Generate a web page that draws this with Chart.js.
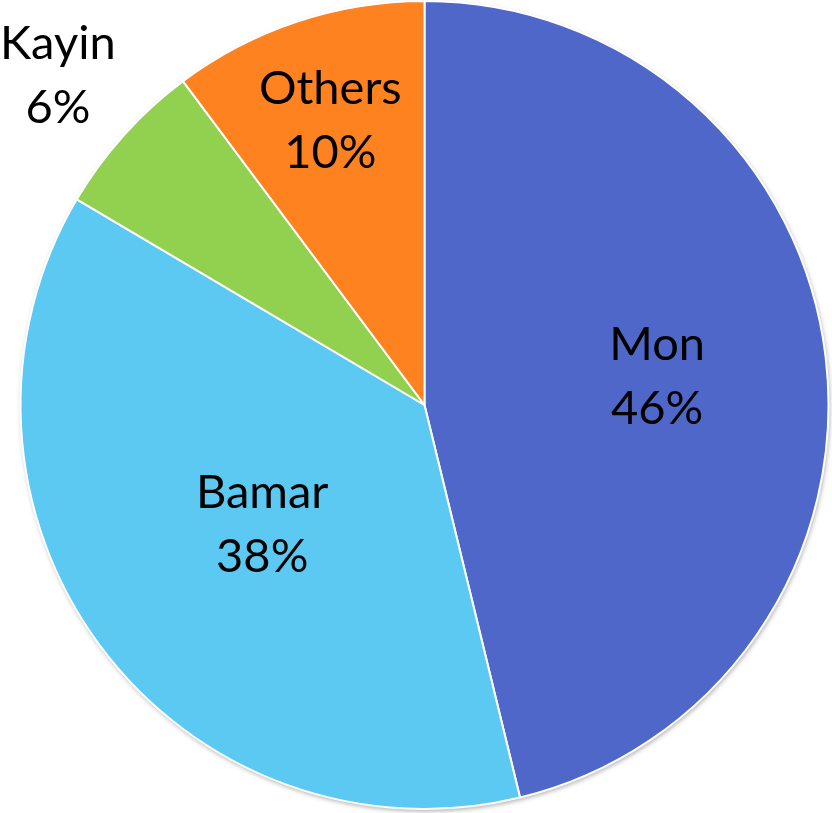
<!DOCTYPE html>
<html>
<head>
<meta charset="utf-8">
<script src="https://cdn.jsdelivr.net/npm/chart.js@4"></script>
<style>
  html, body { margin: 0; padding: 0; background: #ffffff; }
  #wrap { width: 832px; height: 813px; }
</style>
</head>
<body>
<div id="wrap"><canvas id="pieChart" width="832" height="813"></canvas></div>
<script>
const categories = ['Mon', 'Bamar', 'Kayin', 'Others'];
const shares = [46.2, 37.3, 6.3, 10.2];
const shareLabels = ['46%', '38%', '6%', '10%'];

const sliceColors = ['#4F67C9', '#5BC9F1', '#92D050', '#FF8221'];
// how far out along the middle of each slice the label sits (fraction of radius)
const labelRadius = [0.58, 0.50, 1.22, 0.74];

const pieShadow = {
    id: 'pieShadow',
    beforeDatasetsDraw(chart) {
        const arc = chart.getDatasetMeta(0).data[0];
        if (!arc) return;
        const ctx = chart.ctx;
        ctx.save();
        ctx.shadowColor = 'rgba(0,0,0,0.35)';
        ctx.shadowBlur = 5;
        ctx.shadowOffsetX = 1;
        ctx.shadowOffsetY = 2;
        ctx.fillStyle = '#ffffff';
        ctx.beginPath();
        ctx.arc(arc.x, arc.y, arc.outerRadius, 0, Math.PI * 2);
        ctx.fill();
        ctx.restore();
    }
};

const sliceLabels = {
    id: 'sliceLabels',
    afterDatasetsDraw(chart) {
        const ctx = chart.ctx;
        const arcs = chart.getDatasetMeta(0).data;
        ctx.save();
        ctx.fillStyle = '#000000';
        ctx.font = '47px Lato, "Open Sans", sans-serif';
        ctx.textAlign = 'center';
        ctx.textBaseline = 'middle';
        arcs.forEach(function (arc, i) {
            const mid = (arc.startAngle + arc.endAngle) / 2;
            const r = arc.outerRadius * labelRadius[i];
            const x = arc.x + Math.cos(mid) * r;
            const y = arc.y + Math.sin(mid) * r;
            ctx.fillText(categories[i], x, y - 32);
            ctx.fillText(shareLabels[i], x, y + 32);
        });
        ctx.restore();
    }
};

new Chart(document.getElementById('pieChart').getContext('2d'), {
    type: 'pie',
    data: {
        labels: categories,
        datasets: [{
            data: shares,
            backgroundColor: sliceColors,
            borderColor: '#ffffff',
            borderWidth: 2
        }]
    },
    options: {
        responsive: false,
        animation: false,
        layout: { padding: { left: 19, right: 2, top: 0, bottom: 3 } },
        plugins: {
            legend: { display: false },
            tooltip: { enabled: false }
        }
    },
    plugins: [pieShadow, sliceLabels]
});
</script>
</body>
</html>
